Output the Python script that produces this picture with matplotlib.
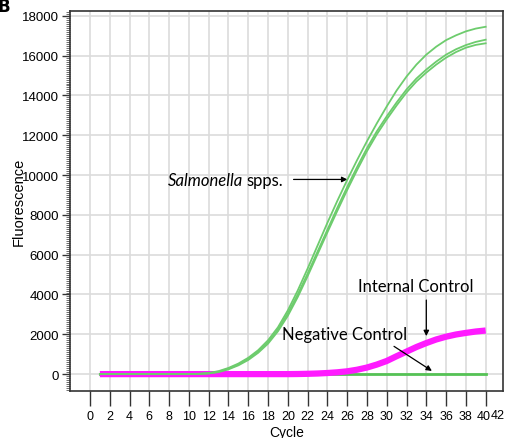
import matplotlib
matplotlib.use("Agg")
import matplotlib.pyplot as plt
import matplotlib.transforms as mtransforms
from matplotlib.ticker import MultipleLocator

# qPCR amplification curves, cycles 1..40
cycles = list(range(1, 41))

salmonella_a = [0, 0, 0, 0, 0, 0, 0, 0, 0, 0,
                15, 55, 150, 310, 530, 820, 1200, 1700, 2350, 3200,
                4200, 5300, 6450, 7600, 8700, 9750, 10750, 11700, 12600, 13450,
                14250, 14950, 15550, 16050, 16450, 16780, 17020, 17220, 17360, 17450]
salmonella_b = [0, 0, 0, 0, 0, 0, 0, 0, 0, 0,
                10, 40, 120, 270, 480, 760, 1130, 1600, 2250, 3050,
                4000, 5050, 6150, 7250, 8350, 9400, 10400, 11350, 12200, 12950,
                13650, 14300, 14850, 15300, 15700, 16050, 16320, 16530, 16690, 16800]
salmonella_c = [0, 0, 0, 0, 0, 0, 0, 0, 0, 0,
                8, 30, 100, 240, 440, 710, 1070, 1530, 2150, 2930,
                3870, 4920, 6020, 7120, 8200, 9250, 10250, 11200, 12050, 12800,
                13500, 14150, 14700, 15150, 15550, 15900, 16180, 16400, 16540, 16620]
internal_control = [0, 0, 0, 0, 0, 0, 0, 0, 0, 0,
                    0, 0, 0, 0, 0, 0, 0, 0, 0, 0,
                    5, 15, 30, 55, 90, 140, 220, 330, 480, 660,
                    900, 1130, 1360, 1560, 1740, 1880, 1990, 2070, 2140, 2190]
negative_control = [0] * 40

x_ticks = list(range(0, 41, 2))
last_x_label = '42'
y_ticks = list(range(0, 18001, 2000))

tick_font = ['Liberation Sans Narrow', 'Liberation Sans', 'DejaVu Sans']
note_font = ['Lato', 'DejaVu Sans']

fig = plt.figure(figsize=(5.05, 4.39), dpi=100)
ax = fig.add_axes([0.139, 0.107, 0.857, 0.866])

# grid
for xt in x_ticks:
    ax.axvline(xt, color='#dcdcdc', lw=1.2, zorder=0)
for yt in y_ticks:
    ax.axhline(yt, color='#dcdcdc', lw=1.2, zorder=0)

green = '#6dcc6d'
ax.plot(cycles, negative_control, color='#55c255', lw=2.0, zorder=2)
ax.plot(cycles, internal_control, color='#ff1aff', lw=4.5, solid_capstyle='butt', zorder=3)
for s in (salmonella_a, salmonella_b, salmonella_c):
    ax.plot(cycles, s, color=green, lw=1.3, zorder=4)

ax.set_xlim(-2, 41.75)
ax.set_ylim(-850, 18250)
ax.set_xticks(x_ticks)
ax.set_yticks(y_ticks)
ax.yaxis.set_minor_locator(MultipleLocator(100))
ax.tick_params(axis='x', direction='out', length=11, width=1, color='#333333', pad=3)
ax.tick_params(axis='y', which='major', direction='out', length=6, width=1, color='#333333', pad=2)
ax.tick_params(axis='y', which='minor', direction='out', length=3, width=0.6, color='#555555')
for lab in ax.get_xticklabels():
    lab.set_family(tick_font)
    lab.set_fontsize(9)
for lab in ax.get_yticklabels():
    lab.set_family(tick_font)
    lab.set_fontsize(9.5)
for sp in ax.spines.values():
    sp.set_color('#333333')
    sp.set_linewidth(1.2)

# the 40 and 42 labels sit squeezed together against the right edge
lab40 = ax.get_xticklabels()[-1]
lab40.set_transform(lab40.get_transform() +
                    mtransforms.ScaledTranslation(-2 / 100, 0, fig.dpi_scale_trans))
ax.text(1.0045, -0.0475, last_x_label, transform=ax.transAxes, ha='right', va='top',
        family=tick_font, fontsize=9)

ax.set_xlabel('Cycle', family=['Liberation Sans', 'DejaVu Sans'], fontsize=10, labelpad=2)
ax.set_ylabel('Fluorescence', family=['Liberation Sans', 'DejaVu Sans'], fontsize=10.5)
ax.yaxis.set_label_coords(-0.103, 0.5)

# annotations
ax.text(15.45, 9730, 'Salmonella', style='italic', ha='right', va='center',
        family=note_font, fontsize=12)
ax.text(15.8, 9730, 'spps.', ha='left', va='center', family=note_font, fontsize=12)
ax.annotate('', xy=(26.3, 9780), xytext=(20.3, 9780),
            arrowprops=dict(arrowstyle='-|>', color='black', lw=0.9, mutation_scale=8))

ax.text(32.9, 4430, 'Internal Control', ha='center', va='center', family=note_font, fontsize=12)
ax.annotate('', xy=(34.0, 1770), xytext=(34.0, 3860),
            arrowprops=dict(arrowstyle='-|>', color='black', lw=0.9, mutation_scale=8))

ax.text(25.7, 2000, 'Negative Control', ha='center', va='center', family=note_font, fontsize=12)
ax.annotate('', xy=(34.8, 85), xytext=(30.5, 1470),
            arrowprops=dict(arrowstyle='-|>', color='black', lw=0.9, mutation_scale=8))

# panel letter, partly cut off at the figure edge
fig.text(-0.004, 1.005, 'B', ha='left', va='top', fontsize=12, fontweight='bold')

fig.savefig('out.png', dpi=100)
